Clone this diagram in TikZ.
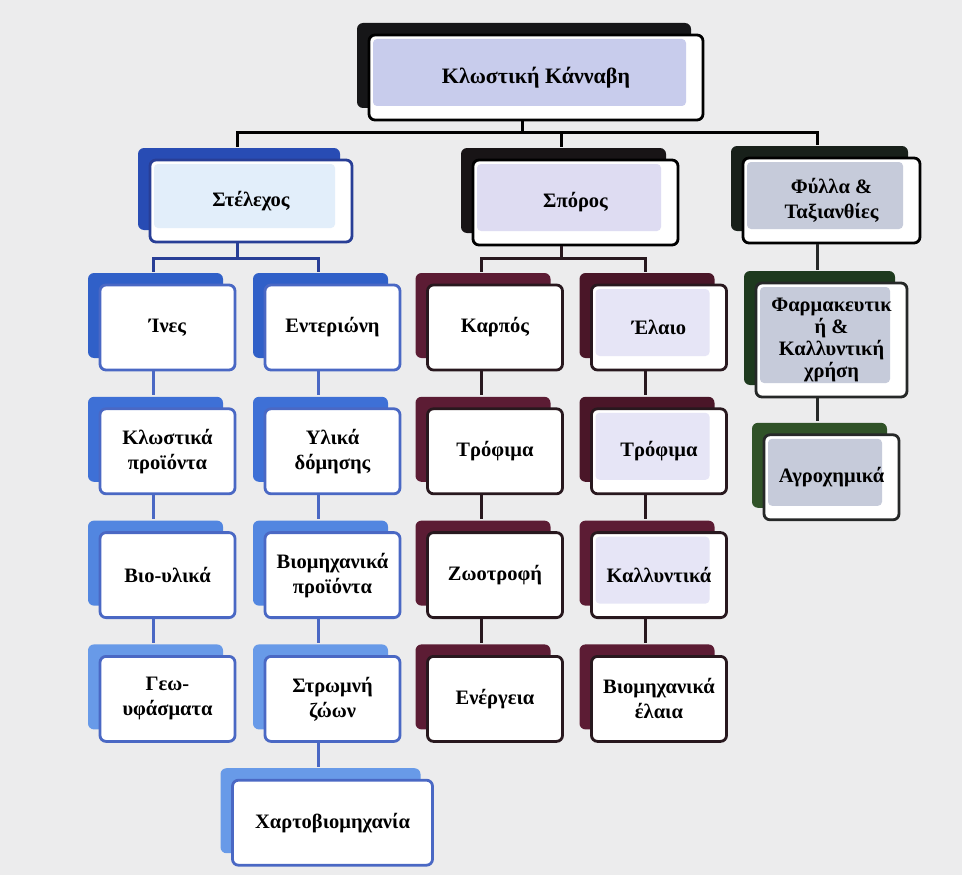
\documentclass[tikz,border=0pt]{standalone}
\usepackage{fontspec}
\setmainfont{Liberation Serif}
\usetikzlibrary{positioning,shadows}

\definecolor{bgcol}{RGB}{236,236,237}
\definecolor{rootback}{RGB}{22,22,24}
\definecolor{rootglass}{RGB}{200,204,236}
\definecolor{stemline}{RGB}{40,62,150}
\definecolor{stemback}{RGB}{40,76,180}
\definecolor{stemglass}{RGB}{226,238,250}
\definecolor{blueline}{RGB}{74,104,196}
\definecolor{blueA}{RGB}{48,96,200}
\definecolor{blueB}{RGB}{62,112,214}
\definecolor{blueC}{RGB}{82,134,224}
\definecolor{blueD}{RGB}{104,154,232}
\definecolor{seedback}{RGB}{24,20,22}
\definecolor{seedglass}{RGB}{222,220,242}
\definecolor{maroonline}{RGB}{40,24,30}
\definecolor{maroonA}{RGB}{92,28,52}
\definecolor{maroonB}{RGB}{74,22,40}
\definecolor{maroonglass}{RGB}{230,229,246}
\definecolor{leafback}{RGB}{24,32,26}
\definecolor{leafglass}{RGB}{198,203,218}
\definecolor{greenA}{RGB}{30,58,30}
\definecolor{greenB}{RGB}{48,82,40}
\definecolor{greenline}{RGB}{38,40,40}

\begin{document}
\begin{tikzpicture}[x=1pt,y=-1pt,
        node distance=36pt,
        card/.style 2 args={draw=#1, line width=2.8pt, rounded corners=6pt, fill=white,
            align=center, font=\bfseries\fontsize{20.5}{25}\selectfont,
            minimum width=135pt, minimum height=85pt, inner sep=2pt,
            general shadow={fill=#2, shadow xshift=-12pt, shadow yshift=12pt}},
        glass/.style={path picture={\fill[#1, rounded corners=4pt]
            ([shift={(4pt,-4pt)}]path picture bounding box.north west) rectangle
            ([shift={(-17pt,14pt)}]path picture bounding box.south east);}},
        link/.style={line width=3pt, draw=#1}
    ]
    \fill[bgcol] (0,0) rectangle (962,875);
    \useasboundingbox (0,0) rectangle (962,875);

    % top
    \node[card={black}{rootback}, glass=rootglass, minimum width=334pt,
        font=\bfseries\fontsize{22}{26}\selectfont] (root) at (536,77.5) {Κλωστική Κάνναβη};

    \node[card={stemline}{stemback}, glass=stemglass, minimum width=202pt, minimum height=82pt] (stem) at (251,201) {Στέλεχος};
    \node[card={black}{seedback}, glass=seedglass, minimum width=205pt] (seed) at (575.5,202.5) {Σπόρος};
    \node[card={black}{leafback}, glass=leafglass, minimum width=177pt] (leaves) at (831.5,200.5) {Φύλλα \&\\Ταξιανθίες};

    % stem
    \node[card={blueline}{blueA}] (fibres) at (167.5,327.5) {Ίνες};
    \node[card={blueline}{blueB}] (textiles) [below=of fibres] {Κλωστικά\\προϊόντα};
    \node[card={blueline}{blueC}] (biomat) [below=of textiles] {Βιο-υλικά};
    \node[card={blueline}{blueD}] (geotex) [below=of biomat] {Γεω-\\υφάσματα};

    \node[card={blueline}{blueA}] (pith) at (332.5,327.5) {Εντεριώνη};
    \node[card={blueline}{blueB}] (building) [below=of pith] {Υλικά\\δόμησης};
    \node[card={blueline}{blueC}] (indprod) [below=of building] {Βιομηχανικά\\προϊόντα};
    \node[card={blueline}{blueD}] (bedding) [below=of indprod] {Στρωμνή\\ζώων};
    \node[card={blueline}{blueD}, minimum width=200pt] (paper) [below=of bedding] {Χαρτοβιομηχανία};

    % seed
    \node[card={maroonline}{maroonA}] (fruit) at (495,327.5) {Καρπός};
    \node[card={maroonline}{maroonA}] (food) [below=of fruit] {Τρόφιμα};
    \node[card={maroonline}{maroonA}] (feed) [below=of food] {Ζωοτροφή};
    \node[card={maroonline}{maroonA}] (energy) [below=of feed] {Ενέργεια};

    \node[card={maroonline}{maroonB}, glass=maroonglass] (oil) at (659,327.5) {Έλαιο};
    \node[card={maroonline}{maroonB}, glass=maroonglass] (oilfood) [below=of oil] {Τρόφιμα};
    \node[card={maroonline}{maroonA}, glass=maroonglass] (cosmetics) [below=of oilfood] {Καλλυντικά};
    \node[card={maroonline}{maroonA}] (indoil) [below=of cosmetics] {Βιομηχανικά\\έλαια};

    % leaves
    \node[card={greenline}{greenA}, glass=leafglass, minimum width=151pt, minimum height=114pt,
        font=\bfseries\fontsize{20.5}{22}\selectfont] (pharma) at (831.5,340) {Φαρμακευτικ\\ή \&\\Καλλυντική\\χρήση};
    \node[card={greenline}{greenB}, glass=leafglass] (agro) [below=35pt of pharma] {Αγροχημικά};

    % connectors
    \coordinate (rootjoin) at ([xshift=-14pt,yshift=-11pt]root.south);
    \draw[link=black] ([xshift=-14pt]root.south) -- (rootjoin);
    \foreach \b in {stem,seed,leaves}
        \draw[link=black] (rootjoin) -| ([xshift=-14pt,yshift=12pt]\b.north);

    \coordinate (stemjoin) at ([xshift=-14pt,yshift=-15pt]stem.south);
    \draw[link=stemline] ([xshift=-14pt]stem.south) -- (stemjoin);
    \foreach \b in {fibres,pith}
        \draw[link=stemline] (stemjoin) -| ([xshift=-14pt,yshift=12pt]\b.north);

    \coordinate (seedjoin) at ([xshift=-14pt,yshift=-12pt]seed.south);
    \draw[link=maroonline] ([xshift=-14pt]seed.south) -- (seedjoin);
    \foreach \b in {fruit,oil}
        \draw[link=maroonline] (seedjoin) -| ([xshift=-14pt,yshift=12pt]\b.north);

    \foreach \a/\b/\c in {fibres/textiles/blueline, textiles/biomat/blueline, biomat/geotex/blueline,
            pith/building/blueline, building/indprod/blueline, indprod/bedding/blueline, bedding/paper/blueline,
            fruit/food/maroonline, food/feed/maroonline, feed/energy/maroonline,
            oil/oilfood/maroonline, oilfood/cosmetics/maroonline, cosmetics/indoil/maroonline,
            leaves/pharma/greenline, pharma/agro/greenline}
        \draw[link=\c] ([xshift=-14pt]\a.south) -- ([xshift=-14pt,yshift=12pt]\b.north);
\end{tikzpicture}
\end{document}
